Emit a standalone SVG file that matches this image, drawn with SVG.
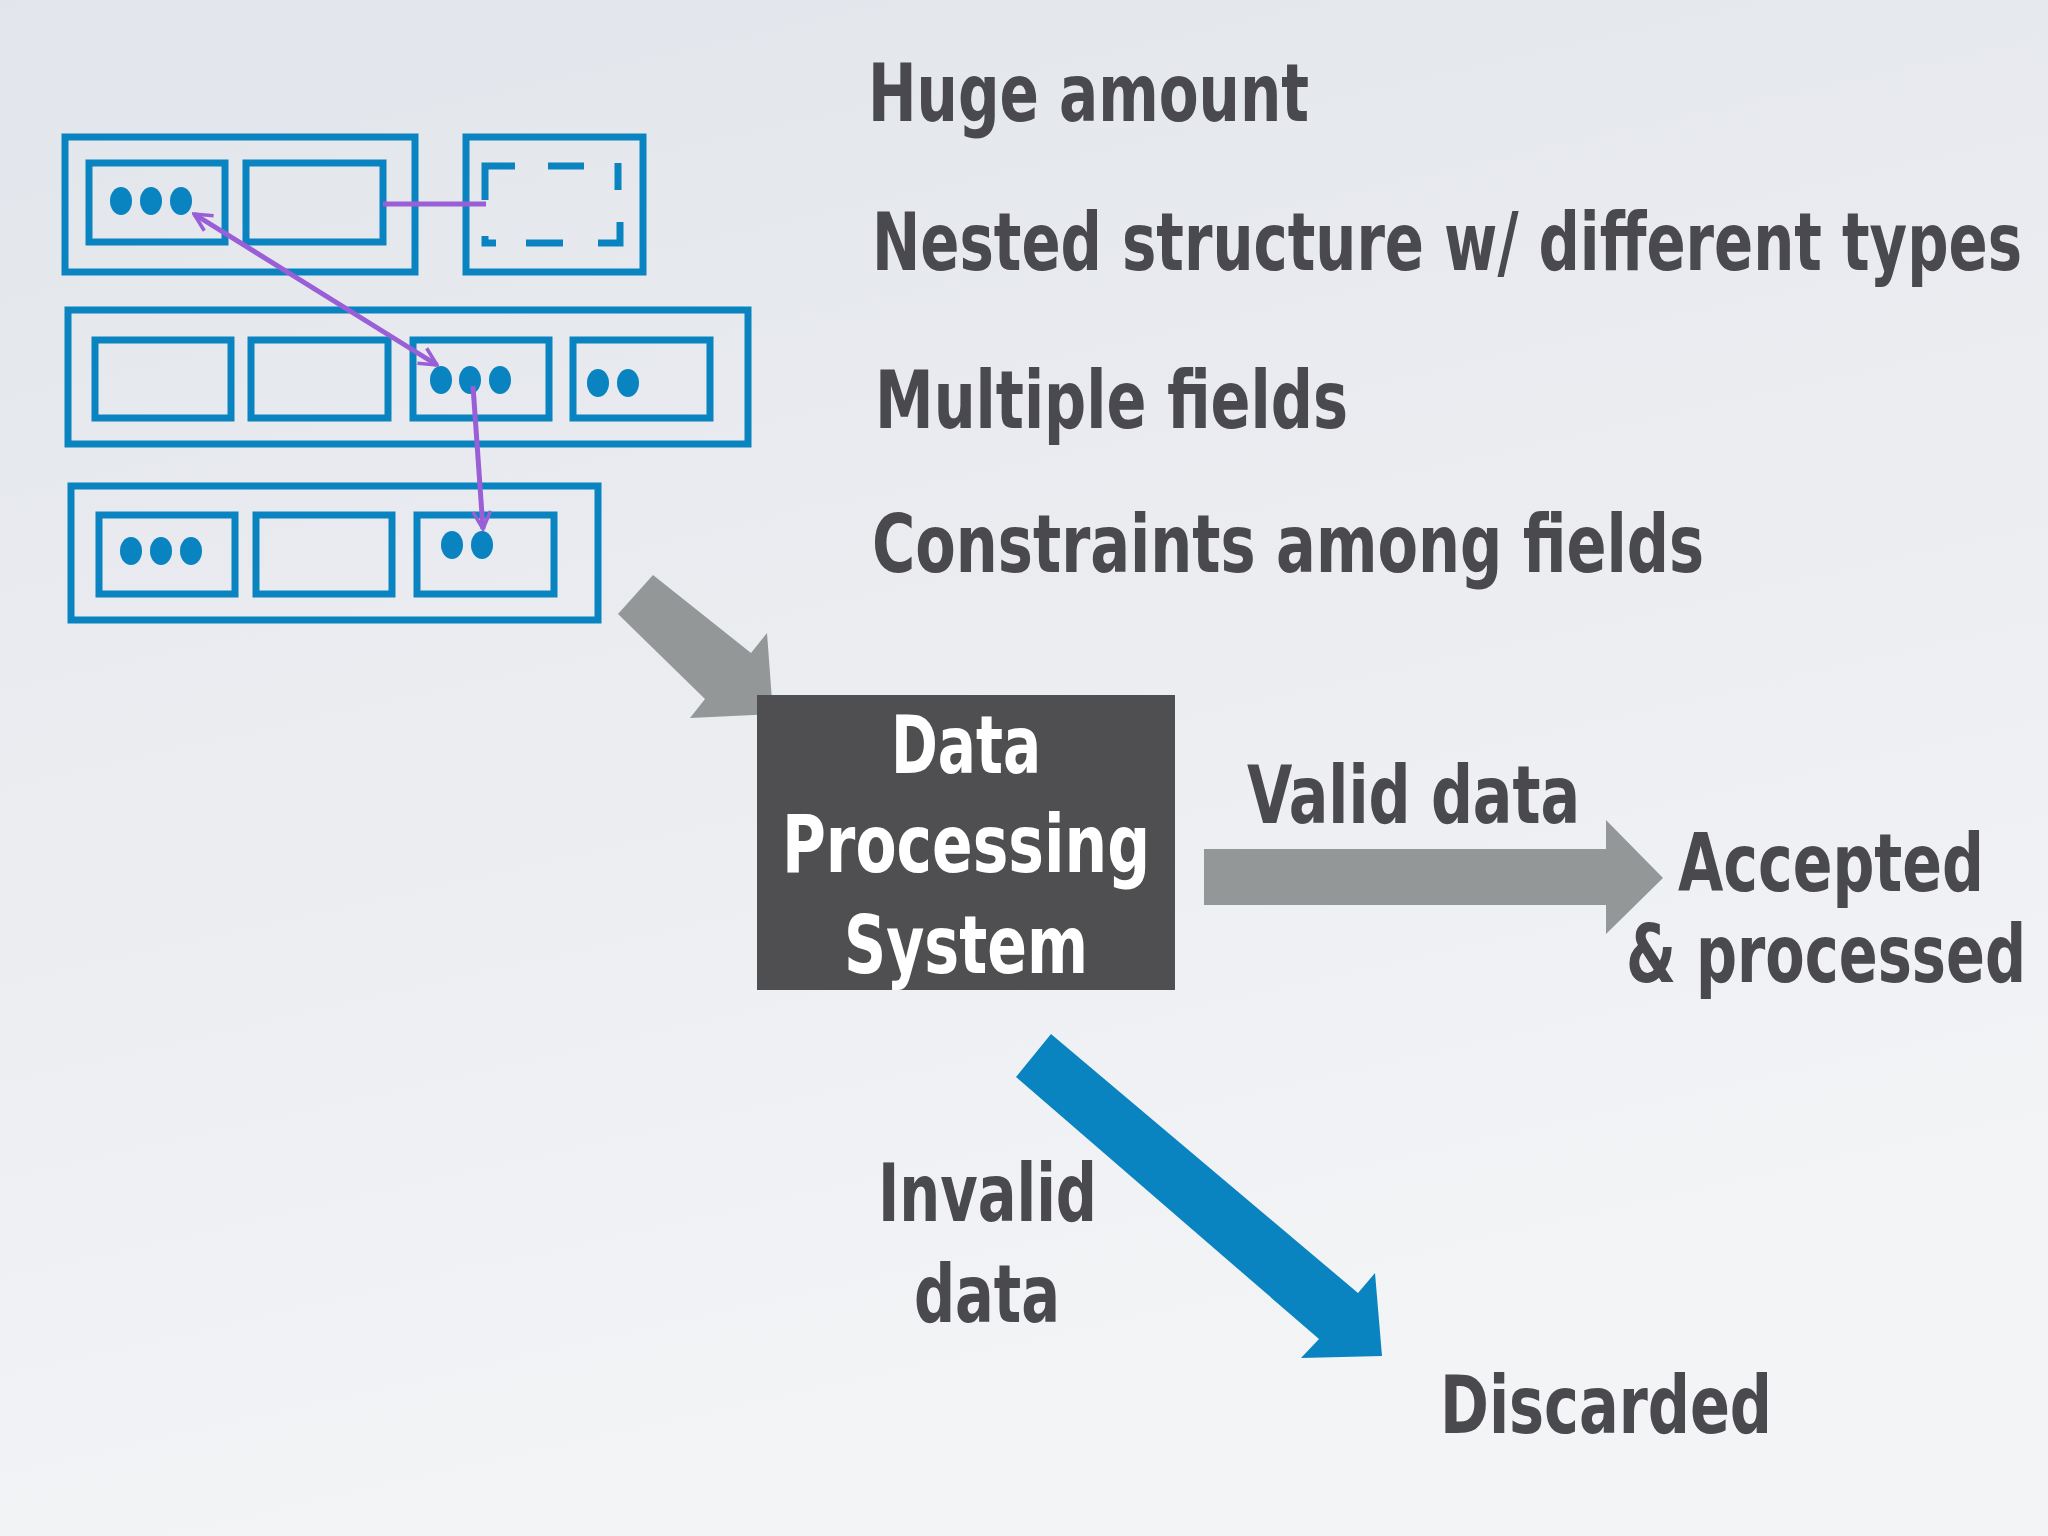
<svg xmlns="http://www.w3.org/2000/svg" width="2048" height="1536" viewBox="0 0 2048 1536">
<defs>
<linearGradient id="bg" x1="0" y1="0" x2="0.3" y2="1"><stop offset="0" stop-color="#e2e5eb"/><stop offset="1" stop-color="#f3f4f6"/></linearGradient>
<marker id="ah" viewBox="0 0 10 10" refX="9" refY="5" markerWidth="22" markerHeight="22" orient="auto-start-reverse" markerUnits="userSpaceOnUse"><path d="M1,1 L9,5 L1,9" fill="none" stroke="#9a5fd6" stroke-width="1.6"/></marker>
<style>
.b{fill:none;stroke:#0a84c0;stroke-width:7}
.d{fill:#0a84c0}
.t{font-family:"DejaVu Sans Condensed","DejaVu Sans",sans-serif;font-weight:bold;font-size:80px;fill:#4a4a4e}
.w{fill:#ffffff;text-anchor:middle}
.p{stroke:#9a5fd6;stroke-width:5;fill:none}
</style>
</defs>
<rect width="2048" height="1536" fill="url(#bg)"/>
<g id="row1">
<rect class="b" x="65" y="137" width="350" height="135"/>
<rect class="b" x="89" y="163" width="136" height="79"/>
<rect class="b" x="246" y="163" width="137" height="79"/>
<ellipse class="d" cx="121" cy="201" rx="11" ry="14"/><ellipse class="d" cx="151" cy="201" rx="11" ry="14"/><ellipse class="d" cx="181" cy="201" rx="11" ry="14"/>
</g>
<g id="dashedbox">
<rect class="b" x="466" y="137" width="177" height="135"/>
<path fill="none" stroke="#0a84c0" stroke-width="7" d="M485,200 V166 H515 M548,166 H584 M618,163 V190 M620,222 V243 H598 M563,243 H526 M496,243 H485 V236"/>
</g>
<g id="row2">
<rect class="b" x="68" y="310" width="680" height="134"/>
<rect class="b" x="95" y="340" width="136" height="78"/>
<rect class="b" x="251" y="340" width="137" height="78"/>
<rect class="b" x="413" y="340" width="136" height="78"/>
<rect class="b" x="573" y="340" width="137" height="78"/>
<ellipse class="d" cx="441" cy="380" rx="11" ry="14"/><ellipse class="d" cx="470" cy="380" rx="11" ry="14"/><ellipse class="d" cx="500" cy="380" rx="11" ry="14"/>
<ellipse class="d" cx="598" cy="383" rx="11" ry="14"/><ellipse class="d" cx="628" cy="383" rx="11" ry="14"/>
</g>
<g id="row3">
<rect class="b" x="71" y="486" width="527" height="134"/>
<rect class="b" x="99" y="515" width="136" height="79"/>
<rect class="b" x="256" y="515" width="136" height="79"/>
<rect class="b" x="417" y="515" width="137" height="79"/>
<ellipse class="d" cx="131" cy="551" rx="11" ry="14"/><ellipse class="d" cx="161" cy="551" rx="11" ry="14"/><ellipse class="d" cx="191" cy="551" rx="11" ry="14"/>
<ellipse class="d" cx="452" cy="545" rx="11" ry="14"/><ellipse class="d" cx="482" cy="545" rx="11" ry="14"/>
</g>
<g id="connectors">
<line class="p" x1="383" y1="204" x2="486" y2="204"/>
<line class="p" x1="194" y1="214" x2="437" y2="365" marker-start="url(#ah)" marker-end="url(#ah)"/>
<line class="p" x1="473" y1="386" x2="483" y2="529" marker-end="url(#ah)"/>
<polygon fill="#939797" points="653,575 751,653 767,633 773,714 690,718 705,699 618,614"/>
<polygon fill="#939797" points="1204,849 1606,849 1606,820 1663,878 1606,934 1606,905 1204,905"/>
<polygon fill="#0a84c0" points="1051,1034 1358,1293 1375,1273 1382,1356 1301,1358 1319,1339 1016,1077"/>
</g>
<g id="dps">
<rect x="757" y="695" width="418" height="295" fill="#4f4f51"/>
<text class="t w" x="966" y="773" textLength="150" lengthAdjust="spacingAndGlyphs">Data</text>
<text class="t w" x="966" y="872" textLength="368" lengthAdjust="spacingAndGlyphs">Processing</text>
<text class="t w" x="966" y="973" textLength="244" lengthAdjust="spacingAndGlyphs">System</text>
</g>
<g id="labels">
<text class="t" x="868" y="121" textLength="441" lengthAdjust="spacingAndGlyphs">Huge amount</text>
<text class="t" x="872" y="270" textLength="1150" lengthAdjust="spacingAndGlyphs">Nested structure w/ different types</text>
<text class="t" x="875" y="428" textLength="473" lengthAdjust="spacingAndGlyphs">Multiple fields</text>
<text class="t" x="872" y="572" textLength="832" lengthAdjust="spacingAndGlyphs">Constraints among fields</text>
<text class="t" x="1247" y="823" textLength="333" lengthAdjust="spacingAndGlyphs">Valid data</text>
<text class="t" x="1678" y="891" textLength="306" lengthAdjust="spacingAndGlyphs">Accepted</text>
<text class="t" x="1626" y="982" textLength="400" lengthAdjust="spacingAndGlyphs">&amp; processed</text>
<text class="t" x="878" y="1221" textLength="219" lengthAdjust="spacingAndGlyphs">Invalid</text>
<text class="t" x="914" y="1322" textLength="146" lengthAdjust="spacingAndGlyphs">data</text>
<text class="t" x="1440" y="1433" textLength="332" lengthAdjust="spacingAndGlyphs">Discarded</text>
</g>
</svg>
